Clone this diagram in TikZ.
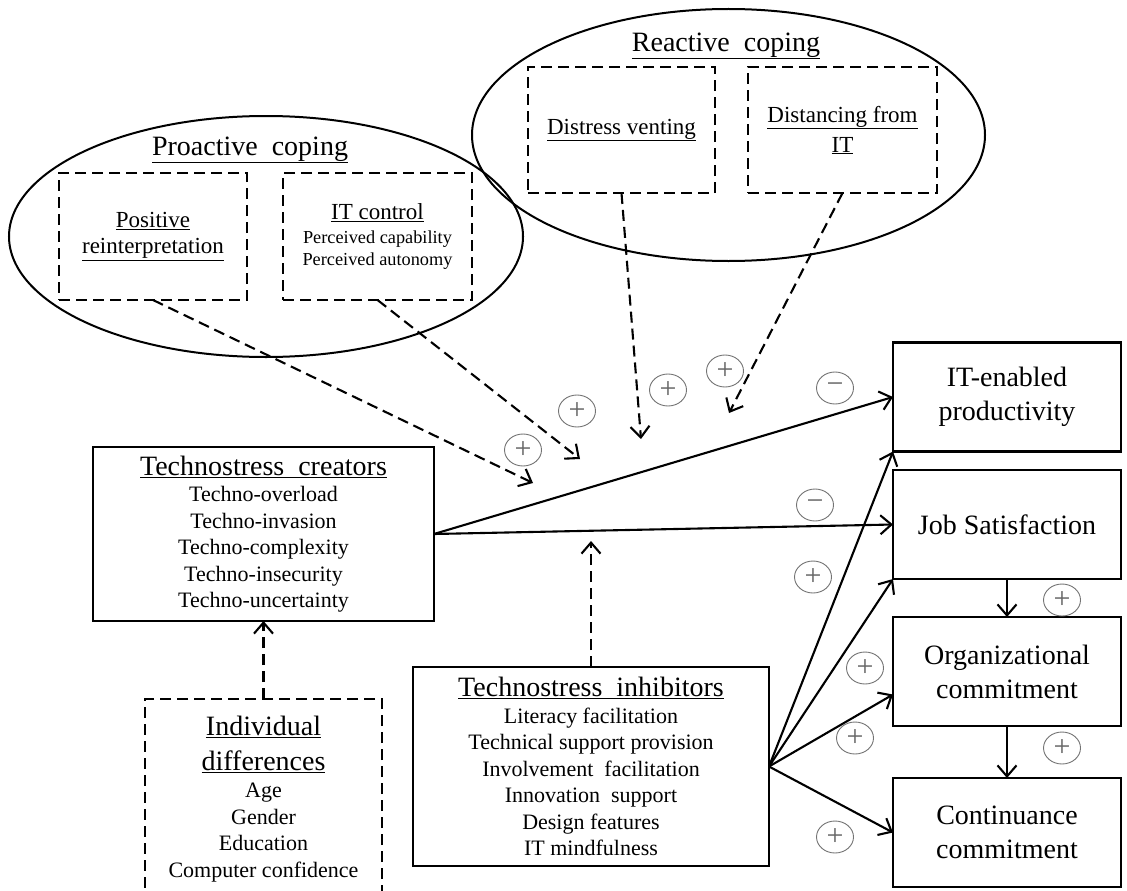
\documentclass[tikz,border=0pt]{standalone}
\usepackage{fontspec}
\setmainfont{Liberation Serif}
\usetikzlibrary{shapes.geometric,arrows.meta}

% font sizes (1pt = 1 unit of the picture)
\newcommand\fsH{\fontsize{28}{34}\selectfont}
\newcommand\fsM{\fontsize{23}{26}\selectfont}
\newcommand\fsB{\fontsize{22}{26.5}\selectfont}
\newcommand\fsS{\fontsize{18.3}{21.5}\selectfont}
\newcommand\uln[1]{\underline{#1}}

\begin{document}
\begin{tikzpicture}[x=1pt,y=-1pt,
  every node/.style={inner sep=0pt, outer sep=0pt},
  solidbox/.style={draw, line width=2.3pt, align=center},
  dbox/.style={draw, line width=2.1pt, dash pattern=on 11pt off 6pt, align=center},
  oval/.style={draw, ellipse, line width=2pt},
  rbox/.style={solidbox, minimum width=228, minimum height=109, font=\fsH},
  link/.style={line width=2.1pt, -{Straight Barb[length=11pt,width=19pt]}},
  dlink/.style={link, dash pattern=on 11pt off 6pt},
  sign/.style={draw=black!55, ellipse, line width=0.9pt, minimum width=37pt,
    minimum height=32pt, text=black!60, font=\fontsize{30}{30}\selectfont},
]
\useasboundingbox (0,0) rectangle (1127,891);

% coping ellipses
\node[oval, minimum width=514, minimum height=241] (proE) at (266,236.5) {};
\node[oval, minimum width=513, minimum height=252] (reaE) at (728.5,135) {};
\node[font=\fsH] (proT) at (250,150) {\uln{Proactive~~coping}};
\node[font=\fsH] (reaT) at (726,46) {\uln{Reactive~~coping}};

% coping strategies
\node[dbox, minimum width=188, minimum height=127, font=\fsM] (posr) at (153,236.5)
  {\uln{Positive}\\\uln{reinterpretation}};
\node[dbox, minimum width=189, minimum height=127, font=\fsS] (itc) at (377.5,236.5)
  {{\fsM\uln{IT control}}\\[2.5pt]Perceived capability\\Perceived autonomy};
\node[dbox, minimum width=187, minimum height=126, font=\fsM] (dv) at (621.5,130)
  {\uln{Distress venting}};
\node[dbox, minimum width=189, minimum height=126, font=\fsM] (dfi) at (842.5,130)
  {\uln{Distancing from}\\[4pt]\uln{IT}};

% creators and inhibitors
\node[solidbox, minimum width=341, minimum height=174, font=\fsB] (cre) at (263.5,534)
  {{\fsH\uln{Technostress~~creators}}\\Techno-overload\\Techno-invasion\\
   Techno-complexity\\Techno-insecurity\\Techno-uncertainty};
\node[solidbox, minimum width=356, minimum height=199, font=\fsB] (inh) at (591,766.5)
  {{\fsH\uln{Technostress~~inhibitors}}\\Literacy facilitation\\Technical support provision\\
   Involvement~~facilitation\\Innovation~~support\\Design features\\IT mindfulness};

% individual differences
\node[dbox, minimum width=237, minimum height=215] (idf) at (263.5,806.5) {};
\node[font=\fsB, align=center] (idft) at (263.5,799)
  {{\fsH\uln{Individual}}\\[8pt]{\fsH\uln{differences}}\\[1pt]Age\\Gender\\Education\\Computer confidence};

% outcomes
\node[rbox] (itp) at (1007,397) {IT-enabled\\productivity};
\node[rbox] (js) at (1007,524.5) {Job Satisfaction};
\node[rbox] (org) at (1007,671.5) {Organizational\\commitment};
\node[rbox] (cont) at (1007,832.5) {Continuance\\commitment};

% ends of the moderating arrows
\coordinate (t1) at (533,483);
\coordinate (t2) at (580,459);
\coordinate (t3) at (641,439);
\coordinate (t4) at (729,413);
\coordinate (t5) at (591,541);

% moderating (dashed) arrows
\draw[dlink] (posr.south) -- (t1);
\draw[dlink] (itc.south) -- (t2);
\draw[dlink] (dv.south) -- (t3);
\draw[dlink] (dfi.south) -- (t4);
\draw[dlink] (inh.north) -- (t5);
\draw[dlink] (idf.north) -- (cre.south);

% direct effects
\draw[link] (cre.east) -- (itp.west);
\draw[link] (cre.east) -- (js.west);
\draw[link] (inh.east) -- (itp.south west);
\draw[link] (inh.east) -- (js.south west);
\draw[link] (inh.east) -- ([yshift=-23pt]org.west);
\draw[link] (inh.east) -- (cont.west);
\draw[link] (js.south) -- (org.north);
\draw[link] (org.south) -- (cont.north);

% signs of the effects
\node[sign] (p1) at (523,450) {+};
\node[sign] (p2) at (577,411) {+};
\node[sign] (p3) at (668,390) {+};
\node[sign] (p4) at (725,371) {+};
\node[sign] (m1) at (835,388) {−};
\node[sign] (m2) at (815,505) {−};
\node[sign] (p5) at (813,577) {+};
\node[sign] (p6) at (865,668) {+};
\node[sign] (p7) at (855,738) {+};
\node[sign] (p8) at (835,837) {+};
\node[sign] (p9) at (1062,600) {+};
\node[sign] (p10) at (1062,748) {+};
\end{tikzpicture}
\end{document}
